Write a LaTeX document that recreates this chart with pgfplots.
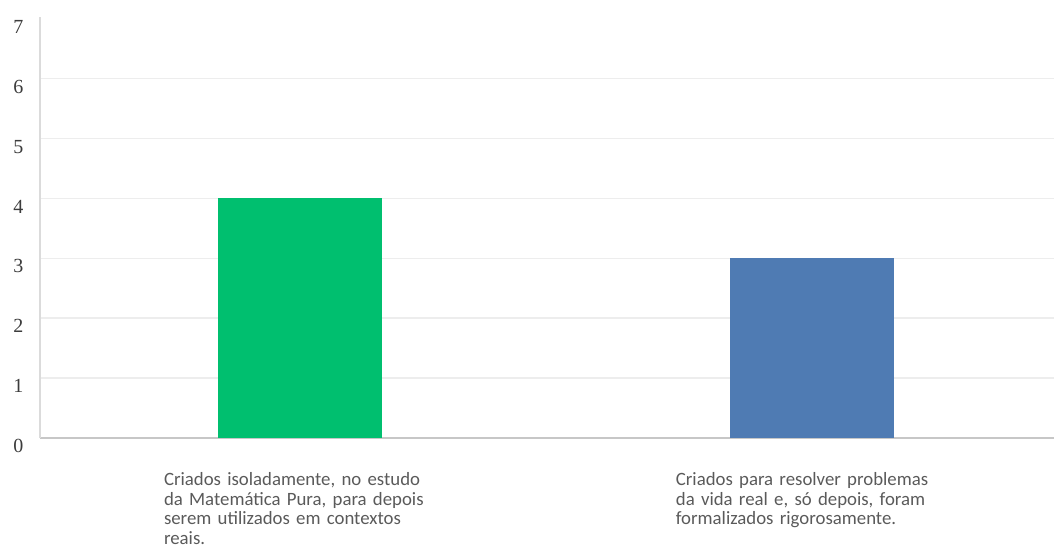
\documentclass[border=0pt]{standalone}
\usepackage{fontspec}
\setmainfont{Carlito}
\newfontfamily\tickfont{Liberation Serif}
\usepackage{pgfplots}
\pgfplotsset{compat=1.18}
\definecolor{sgreen}{RGB}{0,191,111}
\definecolor{sblue}{RGB}{79,123,179}
\definecolor{lbl}{RGB}{90,90,90}
\definecolor{tk}{RGB}{60,60,60}
\begin{document}
\begin{tikzpicture}[x=1pt,y=1pt]
\begin{axis}[
  at={(0,0)}, anchor=south west,
  scale only axis, width=1014pt, height=421pt,
  xmin=-0.508, xmax=1.473, ymin=0, ymax=7.03,
  axis x line*=bottom, axis y line*=left,
  x axis line style={draw=black!22, line width=1.6pt, -},
  y axis line style={draw=black!14, line width=1.6pt, -},
  ytick={0,...,6}, ymajorgrids,
  extra y ticks={7}, extra y tick style={grid=none},
  grid style={draw=black!7, line width=1.6pt},
  major tick length=0pt,
  xtick={0,1},
  xticklabels={{Criados isoladamente, no estudo\\da Matemática Pura, para depois\\serem utilizados em contextos\\reais.},
               {Criados para resolver problemas\\da vida real e, só depois, foram\\formalizados rigorosamente.}},
  xticklabel style={text width=272pt, align=left, font=\fontsize{18.8}{19.7}\selectfont, color=lbl, anchor=north, yshift=-31pt},
  yticklabel style={font=\tickfont\fontsize{20}{22}\selectfont, anchor=east, xshift=-13pt, yshift=-8pt, color=tk},
  /pgf/number format/assume math mode=true,
  ybar, bar width=164pt, bar shift=0pt,
]
\addplot[fill=sgreen, draw=none] coordinates {(0,4)};
\addplot[fill=sblue, draw=none] coordinates {(1,3)};
\end{axis}
\pgfresetboundingbox
\path[use as bounding box] (-40,-108) rectangle (1014,438);
\end{tikzpicture}
\end{document}
